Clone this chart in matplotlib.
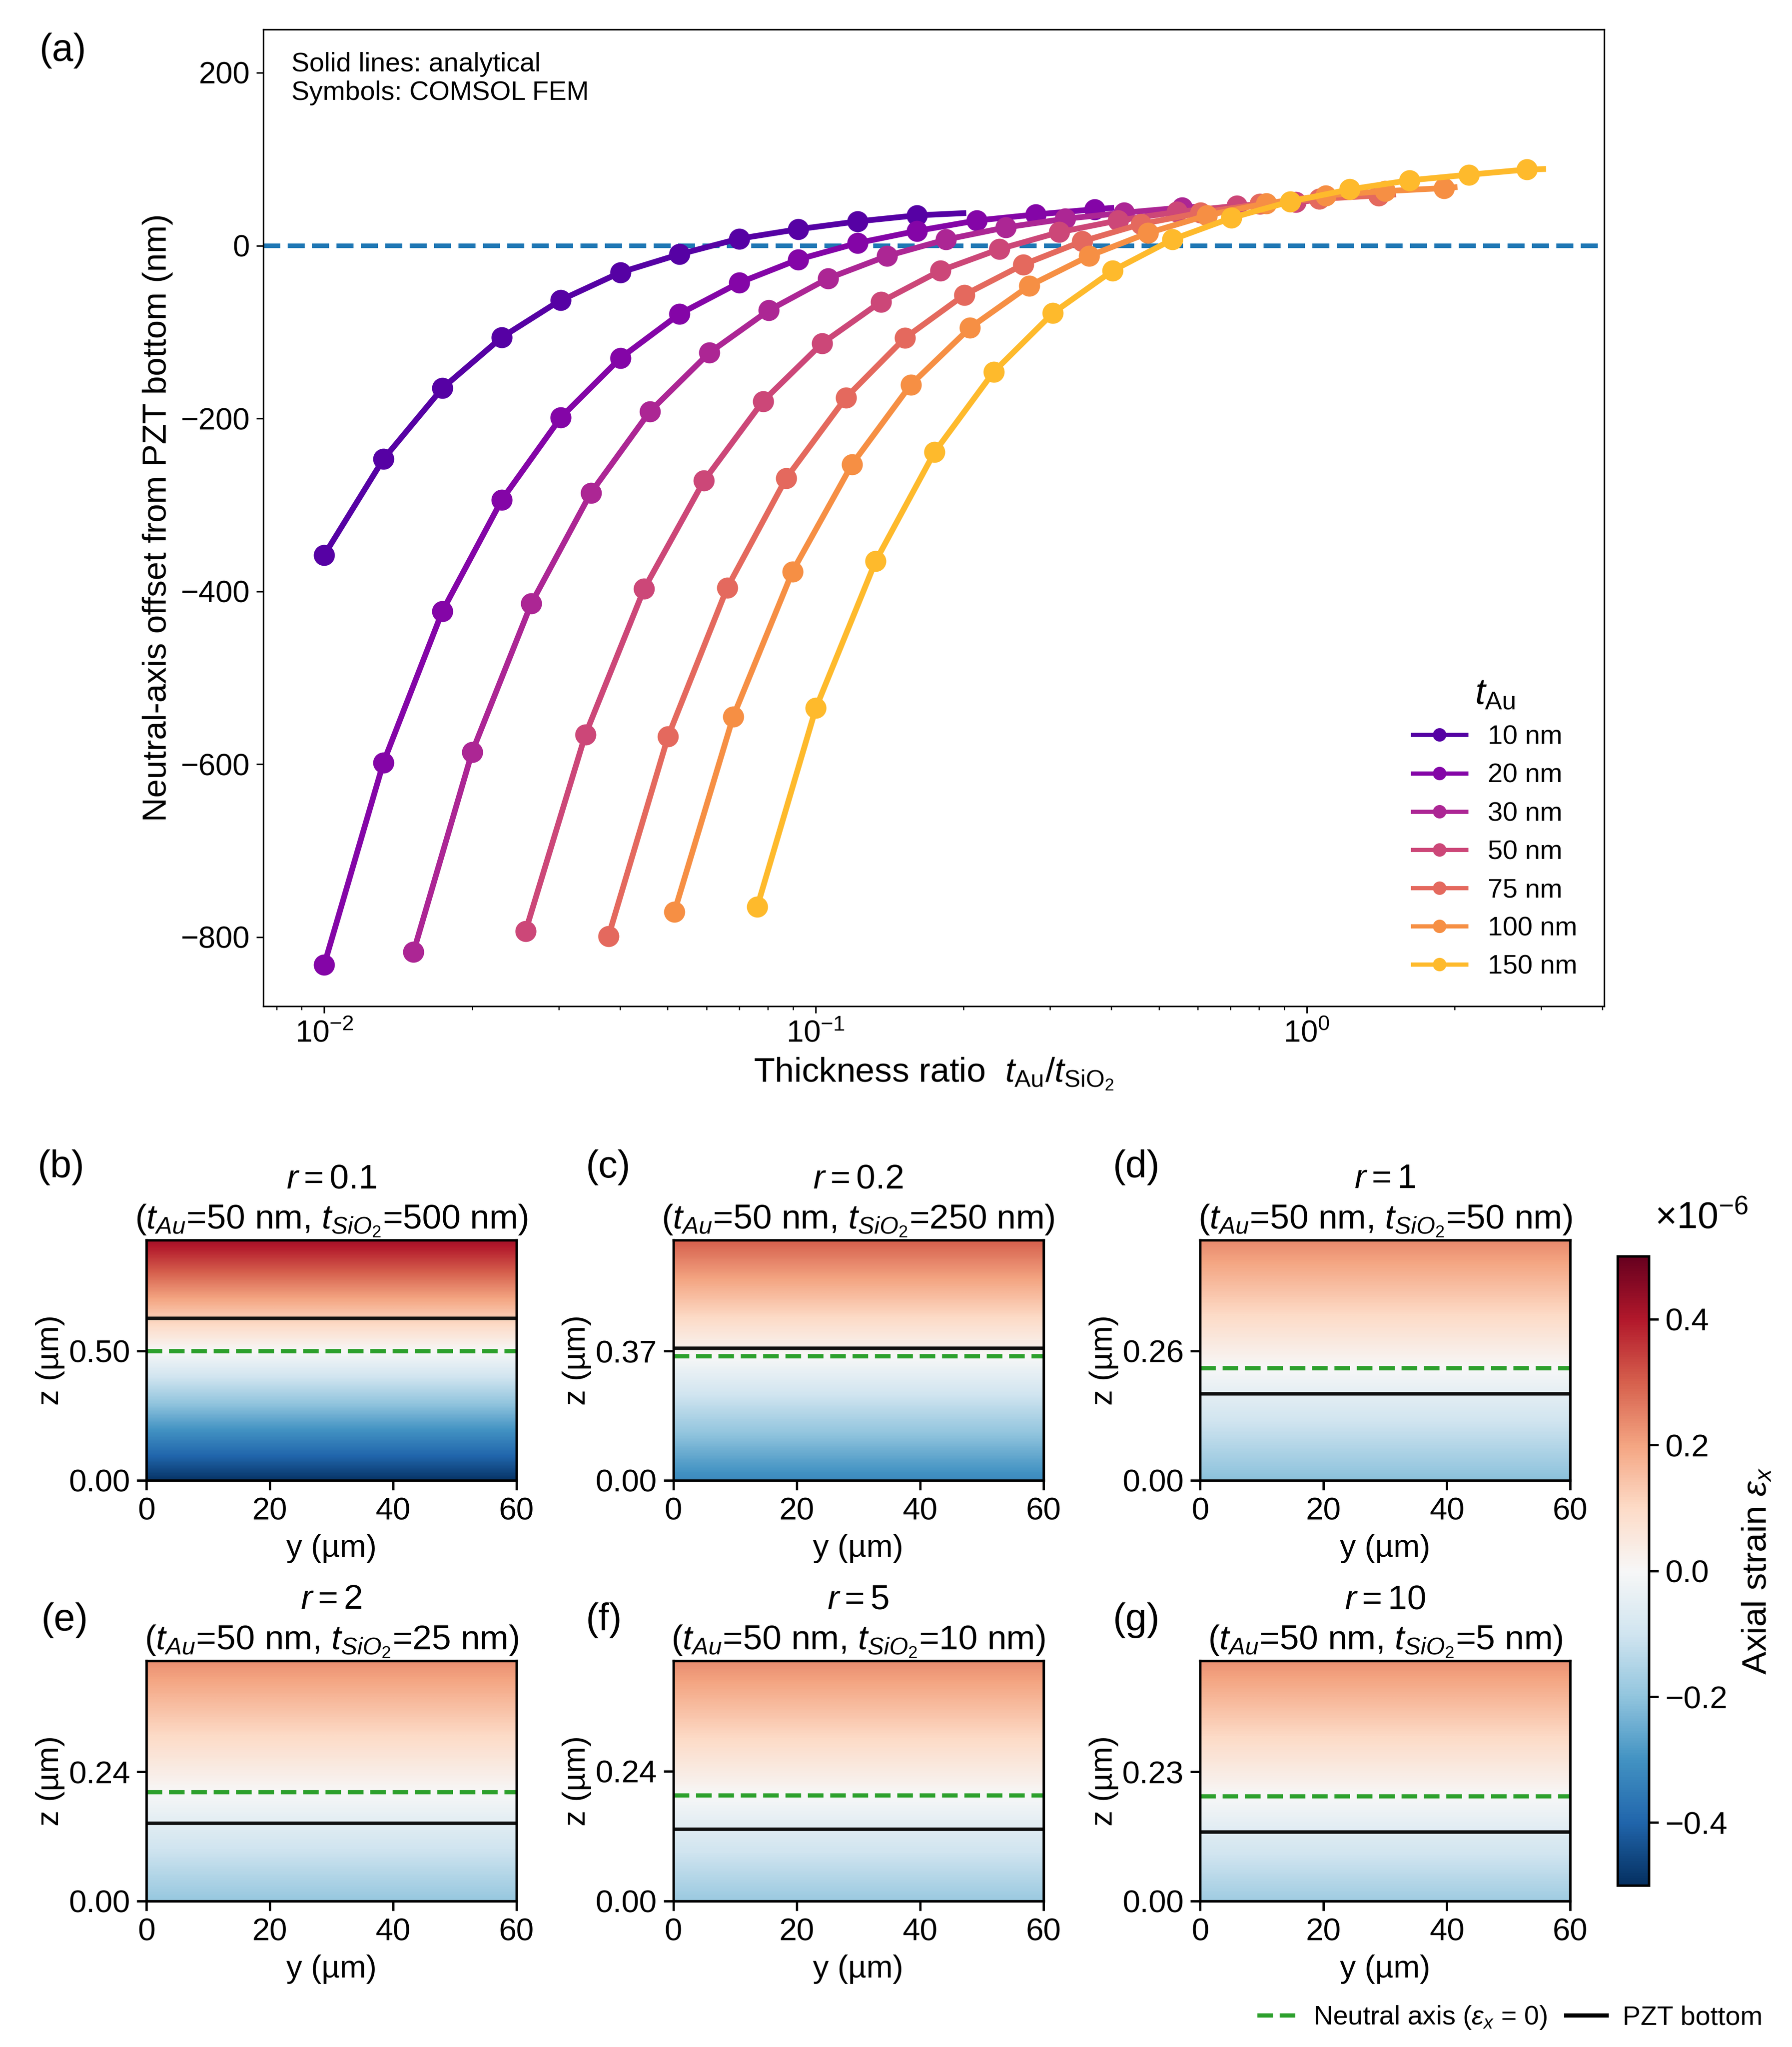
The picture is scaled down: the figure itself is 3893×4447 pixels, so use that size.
import numpy as np
import matplotlib
matplotlib.use("Agg")
import matplotlib.pyplot as plt
from matplotlib.lines import Line2D
from matplotlib.colors import Normalize
from matplotlib.cm import ScalarMappable

plt.rcParams['font.family'] = ['Liberation Sans', 'DejaVu Sans']
plt.rcParams['mathtext.fontset'] = 'custom'
plt.rcParams['mathtext.rm'] = 'Liberation Sans'
plt.rcParams['mathtext.it'] = 'Liberation Sans:italic'
plt.rcParams['mathtext.bf'] = 'Liberation Sans:bold'

# ---- panel (a): neutral-axis offset vs thickness ratio ----
t_au_labels = ['10 nm', '20 nm', '30 nm', '50 nm', '75 nm', '100 nm', '150 nm']

# FEM symbols (ratio, offset in nm)
fem_ratio = [
    [0.0100, 0.0132, 0.0174, 0.0230, 0.0303, 0.0401, 0.0529, 0.0699, 0.0923, 0.1219, 0.1609],
    [0.0100, 0.0132, 0.0174, 0.0230, 0.0303, 0.0401, 0.0529, 0.0699, 0.0923, 0.1219, 0.1609, 0.2128, 0.2810, 0.3700],
    [0.0152, 0.0200, 0.0264, 0.0349, 0.0460, 0.0608, 0.0803, 0.1060, 0.1399, 0.1844, 0.2438, 0.3220, 0.4250, 0.5580],
    [0.0257, 0.0340, 0.0448, 0.0593, 0.0782, 0.1032, 0.1359, 0.1795, 0.2369, 0.3133, 0.4128, 0.5450, 0.7200, 0.9500],
    [0.0379, 0.0501, 0.0661, 0.0872, 0.1153, 0.1520, 0.2009, 0.2647, 0.3494, 0.4605, 0.6080, 0.8030, 1.0600, 1.4000],
    [0.0516, 0.0680, 0.0898, 0.1187, 0.1563, 0.2064, 0.2724, 0.3605, 0.4749, 0.6270, 0.8280, 1.0930, 1.4430, 1.9050],
    [0.0761, 0.1002, 0.1326, 0.1747, 0.2306, 0.3044, 0.4027, 0.5326, 0.7019, 0.9265, 1.2237, 1.6180, 2.1360, 2.8050],
]
fem_offset = [
    [-358, -247, -165, -106, -63, -31, -10, 8, 19, 28, 35],
    [-832, -598, -423, -294, -199, -130, -79, -43, -16, 3, 17, 29, 36, 42],
    [-817, -586, -414, -286, -192, -124, -75, -38, -12, 7, 21, 31, 38, 44],
    [-793, -566, -397, -272, -180, -113, -65, -29, -4, 15.5, 29, 39, 46, 50.5],
    [-799, -568, -396, -269, -176, -107, -57, -22, 5, 25, 38, 48, 54, 58],
    [-771, -545, -377, -253, -161, -95, -46.5, -12, 14.5, 35, 49, 58, 63, 66.5],
    [-765, -535, -365, -239, -146, -78, -29, 7, 32, 51, 65, 75.5, 82, 88],
]
# analytical curves run a little past the last symbol
line_end_ratio = [0.200, 0.400, 0.600, 1.000, 1.500, 2.000, 3.030]
line_end_offset = [37.5, 43.5, 45, 51.5, 59, 67.5, 88.5]

# ---- panels (b)-(g): strain maps ----
panel_tags = ['(b)', '(c)', '(d)', '(e)', '(f)', '(g)']
r_text = ['0.1', '0.2', '1', '2', '5', '10']
t_sio2_nm = [500, 250, 50, 25, 10, 5]
z_top = [0.929, 0.688, 0.483, 0.446, 0.444, 0.4275]       # um
z_tick = [0.50, 0.37, 0.26, 0.24, 0.24, 0.23]
z_neutral = [0.500, 0.355, 0.2256, 0.2025, 0.196, 0.187]
z_pzt_bottom = [0.626, 0.378, 0.1734, 0.1445, 0.1323, 0.1227]
curvature = [0.98, 0.90, 0.93, 0.95, 0.95, 0.95]          # strain (x1e-6) per um
beam_width = 60.0
cbar_ticks = [-0.4e-6, -0.2e-6, 0.0, 0.2e-6, 0.4e-6]
cbar_ticklabels = ['\u22120.4', '\u22120.2', '0.0', '0.2', '0.4']

W, H = 3893, 4447
fig = plt.figure(figsize=(W / 300, H / 300), dpi=300)

ax = fig.add_axes([0.1469, 0.5084, 0.7483, 0.4772])
colors = plt.cm.plasma(np.linspace(0.15, 0.85, 7))
for i in range(7):
    xs = fem_ratio[i] + [line_end_ratio[i]]
    ys = fem_offset[i] + [line_end_offset[i]]
    ax.plot(xs, ys, '-', color=colors[i], lw=3.0, zorder=2 + i)
    ax.plot(fem_ratio[i], fem_offset[i], 'o', color=colors[i], ms=10, zorder=2 + i)
ax.axhline(0, color='#1f77b4', ls='--', lw=2.4, zorder=1)
ax.set_xscale('log')
ax.set_ylim(-880, 250)
ax.set_yticks([-800, -600, -400, -200, 0, 200])
ax.tick_params(labelsize=16)
ax.set_xlabel(r'Thickness ratio  $t_{\mathrm{Au}}/t_{\mathrm{SiO_2}}$', fontsize=18)
ax.set_ylabel('Neutral-axis offset from PZT bottom (nm)', fontsize=17.5)
ax.text(0.021, 0.977, 'Solid lines: analytical\nSymbols: COMSOL FEM',
        transform=ax.transAxes, ha='left', va='top', fontsize=14, linespacing=1.2)

handles = [Line2D([], [], color=colors[i], lw=2.2, marker='o', ms=6) for i in range(7)]
leg = ax.legend(handles, t_au_labels, loc='lower right', frameon=False, fontsize=14,
                title=r'$t_{\mathrm{Au}}$', title_fontsize=19, handlelength=2.0,
                labelspacing=0.5, borderaxespad=0.6)
fig.text(0.022, 0.984, '(a)', fontsize=20, ha='left', va='top')

# strain maps
norm = Normalize(vmin=-0.5e-6, vmax=0.5e-6)
cmap = plt.cm.RdBu_r
col_left = [0.0817, 0.3757, 0.6697]
row_bottom = [0.2769, 0.0713]
pw, ph = 0.2065, 0.1173
label_pos = [(0.021, 0.4385), (0.327, 0.4385), (0.621, 0.4385),
             (0.023, 0.2172), (0.327, 0.2172), (0.621, 0.2172)]

for k in range(6):
    r, c = divmod(k, 3)
    bx = fig.add_axes([col_left[c], row_bottom[r], pw, ph])
    z = np.linspace(0, z_top[k], 300)
    strain = curvature[k] * (z - z_neutral[k]) * 1e-6
    field = np.tile(strain[:, None], (1, 2))
    bx.imshow(field, origin='lower', extent=[0, beam_width, 0, z_top[k]],
              aspect='auto', cmap=cmap, norm=norm, interpolation='bilinear')
    bx.axhline(z_neutral[k], color='#2ca02c', ls='--', lw=2.2)
    bx.axhline(z_pzt_bottom[k], color='#111111', lw=1.8)
    bx.set_xlim(0, beam_width)
    bx.set_ylim(0, z_top[k])
    bx.set_xticks([0, 20, 40, 60])
    bx.set_yticks([0, z_tick[k]])
    bx.set_yticklabels(['0.00', '%.2f' % z_tick[k]])
    bx.tick_params(labelsize=16.5, width=1.2, length=5)
    for s in bx.spines.values():
        s.set_linewidth(1.3)
    bx.set_xlabel('y (µm)', fontsize=16.5)
    bx.set_ylabel('z (µm)', fontsize=16.5, labelpad=2)
    bx.set_title('$r = %s$\n($t_{Au}$=50 nm, $t_{SiO_2}$=%d nm)' % (r_text[k], t_sio2_nm[k]),
                 fontsize=18, linespacing=1.3)
    fig.text(label_pos[k][0], label_pos[k][1], panel_tags[k], fontsize=20, ha='left', va='top')

cax = fig.add_axes([0.9027, 0.0789, 0.0175, 0.3074])
sm = ScalarMappable(norm=norm, cmap=cmap)
cb = fig.colorbar(sm, cax=cax)
cb.set_ticks(cbar_ticks)
cb.ax.set_yticklabels(cbar_ticklabels)
cb.ax.tick_params(labelsize=16.5, width=1.2, length=5)
cb.outline.set_linewidth(1.3)
cb.set_label(r'Axial strain $\varepsilon_x$', fontsize=18)
cb.ax.yaxis.set_label_coords(3.94, 0.5)
fig.text(0.9235, 0.396, r'$\times10^{-6}$', fontsize=19.5, ha='left', va='bottom')

leg_handles = [Line2D([], [], color='#2ca02c', ls='--', lw=2.2),
               Line2D([], [], color='black', lw=2.2)]
fig.legend(leg_handles, [r'Neutral axis ($\varepsilon_x$ = 0)', 'PZT bottom'],
           loc='lower right', bbox_to_anchor=(0.997, -0.004), ncol=2, frameon=False,
           fontsize=14, handlelength=1.5, handletextpad=0.6, columnspacing=0.7)

fig.savefig('out.png', dpi=300)
